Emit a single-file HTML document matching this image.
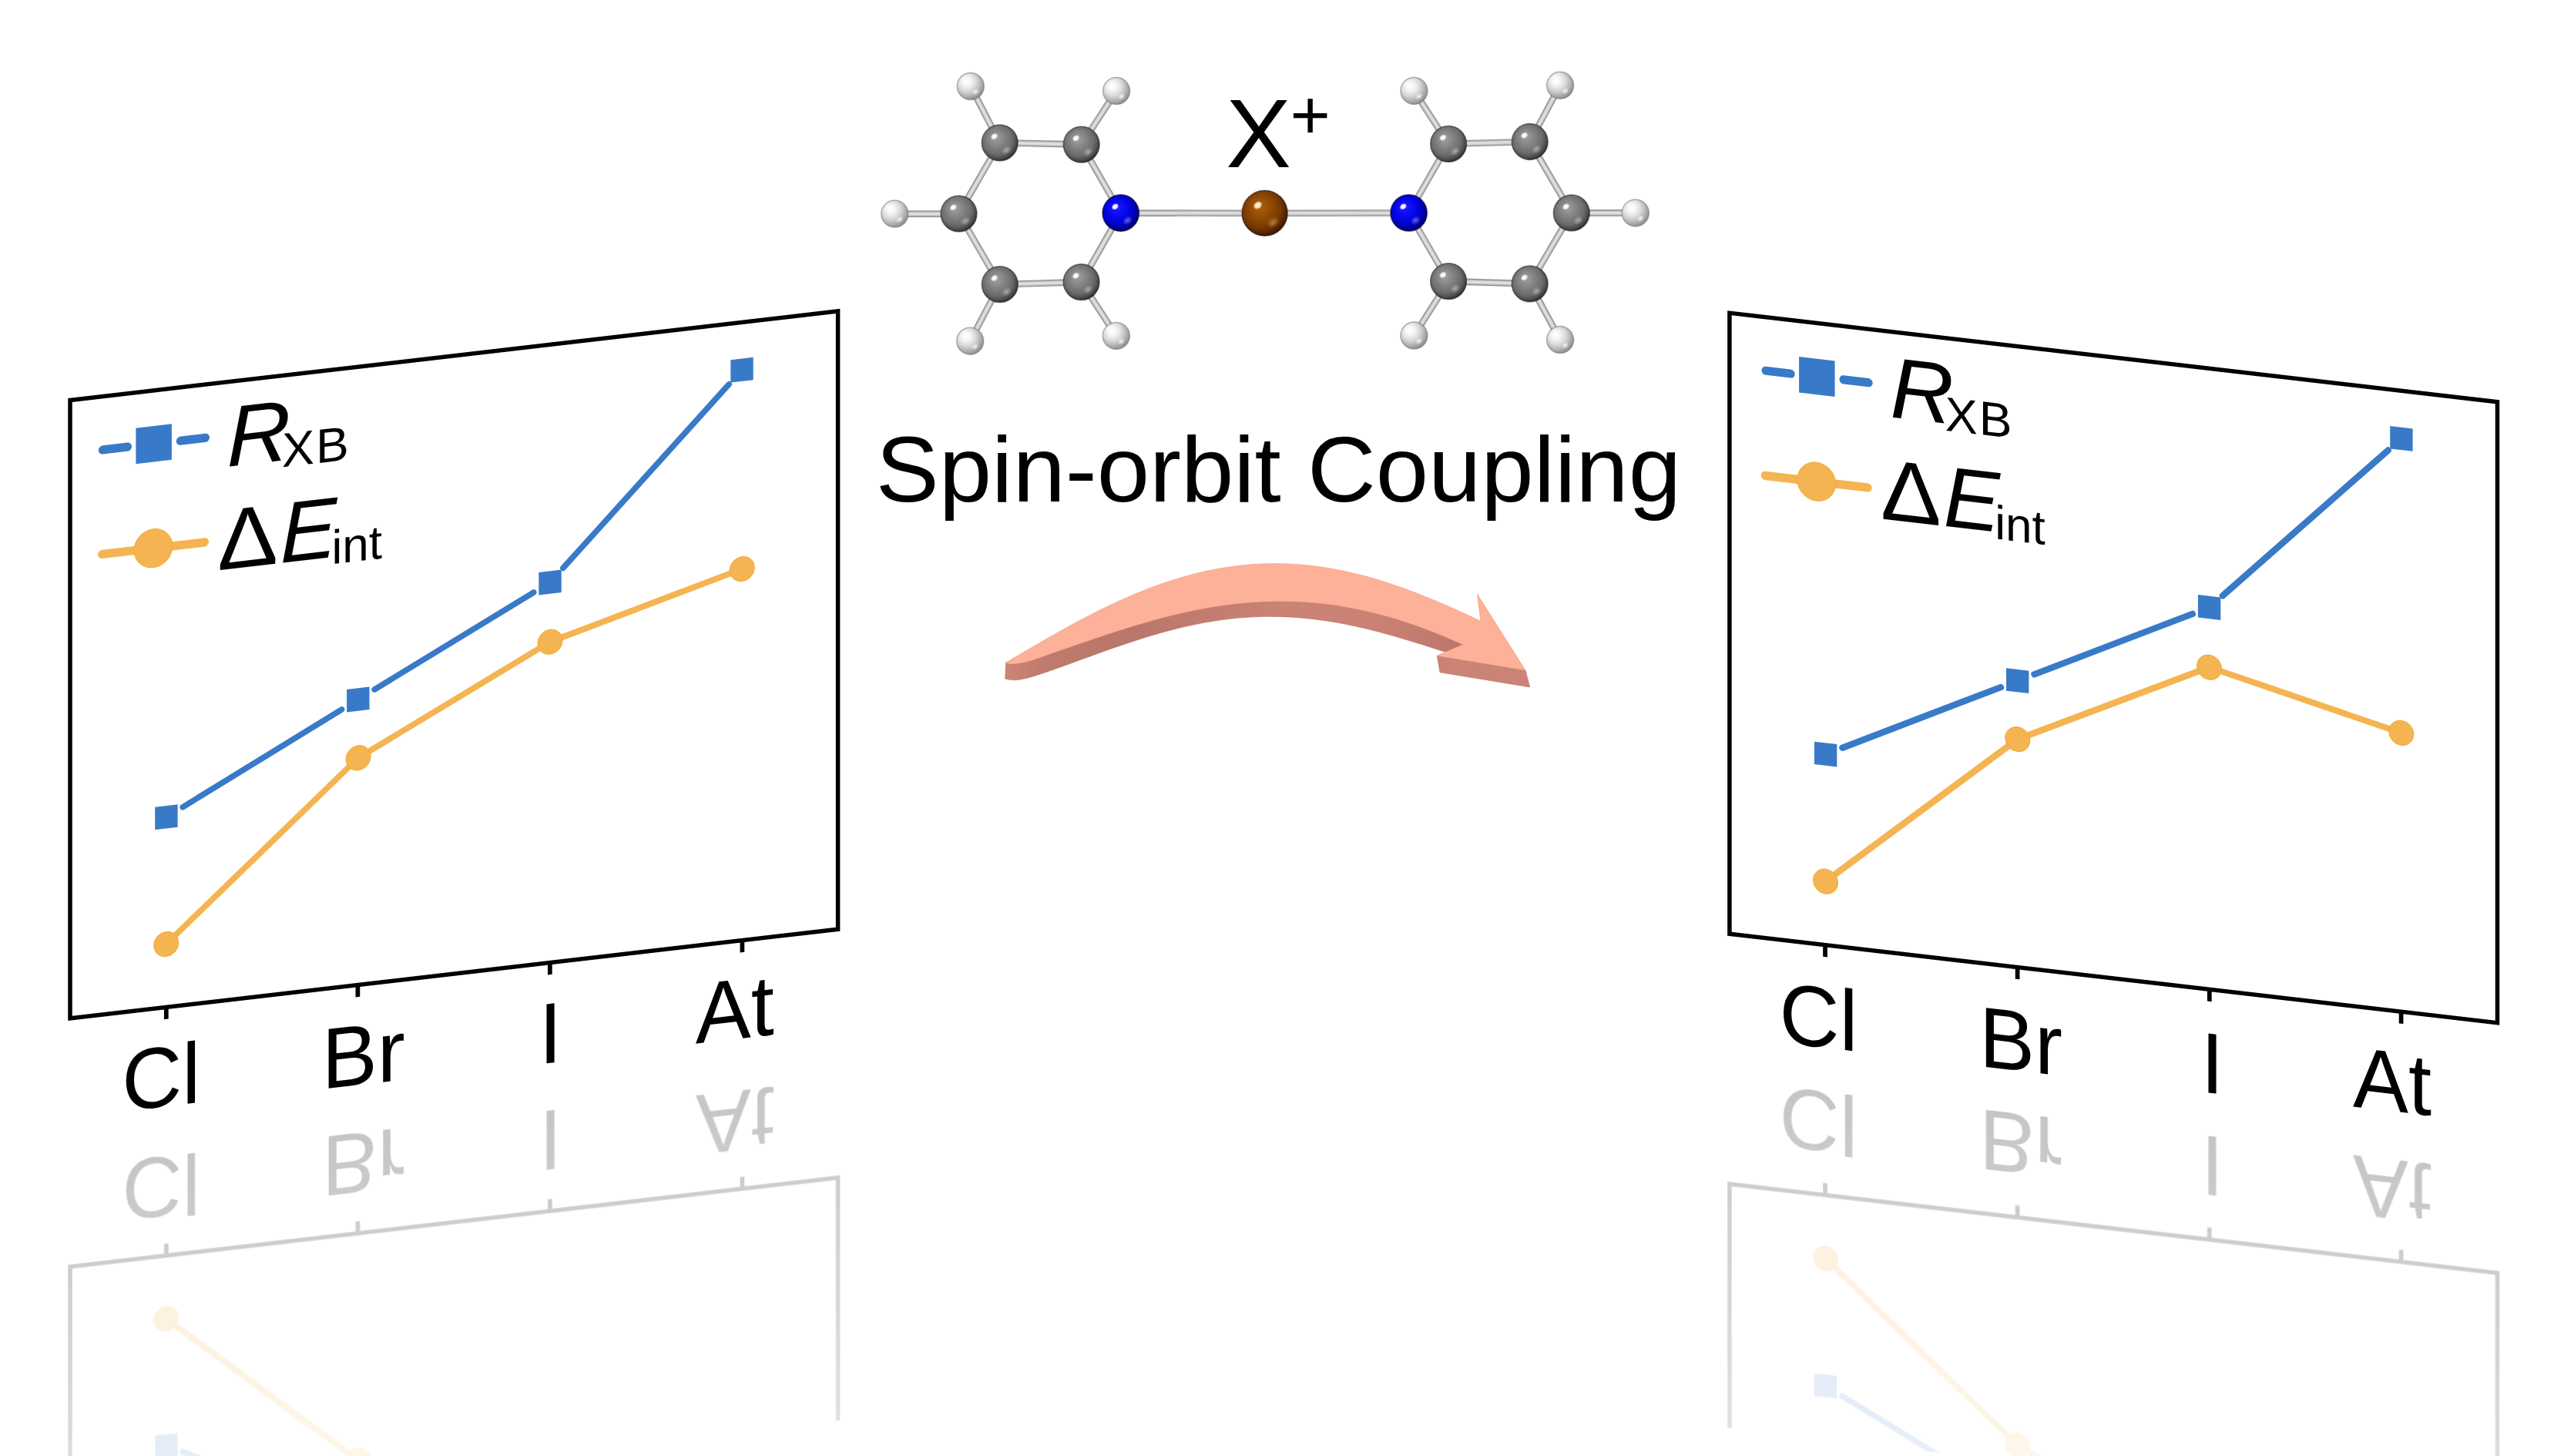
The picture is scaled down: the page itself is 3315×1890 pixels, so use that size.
<!DOCTYPE html>
<html lang="en"><head><meta charset="utf-8"><title>Spin-orbit Coupling</title>
<style>html,body{margin:0;padding:0;background:#fff}body{width:3315px;height:1890px;overflow:hidden}svg{display:block}text{white-space:pre}</style>
</head><body>
<svg width="3315" height="1890" viewBox="0 0 3315 1890">
<defs>
<radialGradient id="gC" cx="0.45" cy="0.43" r="0.6" fx="0.38" fy="0.34"><stop offset="0" stop-color="#a2a2a2"/><stop offset="0.35" stop-color="#868686"/><stop offset="0.7" stop-color="#6b6b6b"/><stop offset="0.87" stop-color="#4c4c4c"/><stop offset="0.95" stop-color="#323232"/><stop offset="1" stop-color="#222222"/></radialGradient>
<radialGradient id="gH" cx="0.4" cy="0.38" r="0.68" fx="0.33" fy="0.3"><stop offset="0" stop-color="#ffffff"/><stop offset="0.25" stop-color="#f4f4f4"/><stop offset="0.5" stop-color="#dadada"/><stop offset="0.72" stop-color="#b6b6b6"/><stop offset="0.9" stop-color="#969696"/><stop offset="1" stop-color="#7c7c7c"/></radialGradient>
<radialGradient id="gN" cx="0.45" cy="0.43" r="0.6" fx="0.38" fy="0.34"><stop offset="0" stop-color="#1c1cff"/><stop offset="0.4" stop-color="#0707f2"/><stop offset="0.72" stop-color="#0000c0"/><stop offset="0.88" stop-color="#000086"/><stop offset="0.96" stop-color="#00005c"/><stop offset="1" stop-color="#000048"/></radialGradient>
<radialGradient id="gBr" cx="0.45" cy="0.43" r="0.6" fx="0.38" fy="0.34"><stop offset="0" stop-color="#b0600c"/><stop offset="0.4" stop-color="#924a04"/><stop offset="0.72" stop-color="#733700"/><stop offset="0.88" stop-color="#4f2400"/><stop offset="0.96" stop-color="#381800"/><stop offset="1" stop-color="#2c1200"/></radialGradient>
<radialGradient id="hC"><stop offset="0" stop-color="#ffffff" stop-opacity="1.0"/><stop offset="0.55" stop-color="#ffffff" stop-opacity="0.9"/><stop offset="1" stop-color="#ffffff" stop-opacity="0"/></radialGradient>
<radialGradient id="hH"><stop offset="0" stop-color="#ffffff" stop-opacity="1.0"/><stop offset="0.55" stop-color="#ffffff" stop-opacity="0.9"/><stop offset="1" stop-color="#ffffff" stop-opacity="0"/></radialGradient>
<radialGradient id="hN"><stop offset="0" stop-color="#ffffff" stop-opacity="1.0"/><stop offset="0.55" stop-color="#ffffff" stop-opacity="0.9"/><stop offset="1" stop-color="#ffffff" stop-opacity="0"/></radialGradient>
<radialGradient id="hBr"><stop offset="0" stop-color="#fff4e0" stop-opacity="1.0"/><stop offset="0.55" stop-color="#fff4e0" stop-opacity="0.9"/><stop offset="1" stop-color="#fff4e0" stop-opacity="0"/></radialGradient>
<radialGradient id="sC"><stop offset="0" stop-color="#c4c4c4" stop-opacity="0.7"/><stop offset="1" stop-color="#c4c4c4" stop-opacity="0"/></radialGradient>
<radialGradient id="sH"><stop offset="0" stop-color="#ffffff" stop-opacity="0.85"/><stop offset="1" stop-color="#ffffff" stop-opacity="0"/></radialGradient>
<radialGradient id="sN"><stop offset="0" stop-color="#7878ff" stop-opacity="0.8"/><stop offset="1" stop-color="#7878ff" stop-opacity="0"/></radialGradient>
<radialGradient id="sBr"><stop offset="0" stop-color="#d8944c" stop-opacity="0.7"/><stop offset="1" stop-color="#d8944c" stop-opacity="0"/></radialGradient>
<linearGradient id="arrSide" gradientUnits="userSpaceOnUse" x1="1304" y1="0" x2="1900" y2="0"><stop offset="0" stop-color="#cc8577"/><stop offset="0.08" stop-color="#c07b6e"/><stop offset="0.28" stop-color="#b9766a"/><stop offset="0.6" stop-color="#cb8375"/><stop offset="0.8" stop-color="#ca8274"/><stop offset="1" stop-color="#bb776b"/></linearGradient>
<linearGradient id="fg0" gradientUnits="userSpaceOnUse" x1="0" y1="963.6" x2="0" y2="1440"><stop offset="0" stop-color="#fff" stop-opacity="0.235"/><stop offset="1" stop-color="#fff" stop-opacity="0.12"/></linearGradient>
<mask id="fade0" maskUnits="userSpaceOnUse" x="-50" y="963.6" width="1100" height="476.4"><rect x="-50" y="963.6" width="1100" height="476.4" fill="url(#fg0)"/></mask>
<linearGradient id="fg1" gradientUnits="userSpaceOnUse" x1="0" y1="968.4" x2="0" y2="1447.8"><stop offset="0" stop-color="#fff" stop-opacity="0.235"/><stop offset="1" stop-color="#fff" stop-opacity="0.12"/></linearGradient>
<mask id="fade1" maskUnits="userSpaceOnUse" x="-50" y="968.4" width="1100" height="479.4"><rect x="-50" y="968.4" width="1100" height="479.4" fill="url(#fg1)"/></mask>
</defs>
<rect width="3315" height="1890" fill="#fff"/>
<g transform="matrix(1 -0.116 0 1 91 519.5)" font-family='"Liberation Sans", sans-serif' fill="#000">
<g mask="url(#fade0)"><g transform="matrix(1 0 0 -1 0 1927.2)">
<rect x="0" y="0" width="996.6" height="802.4" fill="none" stroke="#000" stroke-width="5.5"/>
<line x1="124.8" y1="802.4" x2="124.8" y2="817.9" stroke="#000" stroke-width="5.7"/>
<line x1="373.4" y1="802.4" x2="373.4" y2="817.9" stroke="#000" stroke-width="5.7"/>
<line x1="622.8" y1="802.4" x2="622.8" y2="817.9" stroke="#000" stroke-width="5.7"/>
<line x1="872.4" y1="802.4" x2="872.4" y2="817.9" stroke="#000" stroke-width="5.7"/>
<polyline points="124.7,720.47 374,507.68 623,385.97 872.2,320.18" fill="none" stroke="#f5b452" stroke-width="8.2" stroke-linejoin="round" stroke-linecap="round"/>
<circle cx="124.7" cy="720.47" r="16.1" fill="#f5b452" stroke="#f2a634" stroke-width="0.9"/>
<circle cx="374" cy="507.68" r="16.1" fill="#f5b452" stroke="#f2a634" stroke-width="0.9"/>
<circle cx="623" cy="385.97" r="16.1" fill="#f5b452" stroke="#f2a634" stroke-width="0.9"/>
<circle cx="872.2" cy="320.18" r="16.1" fill="#f5b452" stroke="#f2a634" stroke-width="0.9"/>
<line x1="146.39" y1="545" x2="352.31" y2="442.55" stroke="#397ac8" stroke-width="8" stroke-linecap="round"/>
<line x1="395.32" y1="421.23" x2="601.48" y2="319.4" stroke="#397ac8" stroke-width="8" stroke-linecap="round"/>
<line x1="640.04" y1="291.87" x2="854.96" y2="78.75" stroke="#397ac8" stroke-width="8" stroke-linecap="round"/>
<rect x="110.2" y="540.99" width="29.4" height="29.4" fill="#397ac8"/>
<rect x="359.1" y="417.16" width="29.4" height="29.4" fill="#397ac8"/>
<rect x="608.3" y="294.07" width="29.4" height="29.4" fill="#397ac8"/>
<rect x="857.3" y="47.15" width="29.4" height="29.4" fill="#397ac8"/>
<text transform="translate(67.2 930.8) scale(1 1.035)" font-size="108">Cl</text>
<text transform="translate(326.8 932.2) scale(1 1.035)" font-size="108">Br</text>
<text transform="translate(608.5 932.5) scale(1 1.035)" font-size="108">I</text>
<text transform="translate(811.8 929.3) scale(1 1.035)" font-size="108">At</text>
</g></g>
<g>
<rect x="0" y="0" width="996.6" height="802.4" fill="none" stroke="#000" stroke-width="5.5"/>
<line x1="124.8" y1="802.4" x2="124.8" y2="817.9" stroke="#000" stroke-width="5.7"/>
<line x1="373.4" y1="802.4" x2="373.4" y2="817.9" stroke="#000" stroke-width="5.7"/>
<line x1="622.8" y1="802.4" x2="622.8" y2="817.9" stroke="#000" stroke-width="5.7"/>
<line x1="872.4" y1="802.4" x2="872.4" y2="817.9" stroke="#000" stroke-width="5.7"/>
<polyline points="124.7,720.47 374,507.68 623,385.97 872.2,320.18" fill="none" stroke="#f5b452" stroke-width="8.2" stroke-linejoin="round" stroke-linecap="round"/>
<circle cx="124.7" cy="720.47" r="16.1" fill="#f5b452" stroke="#f2a634" stroke-width="0.9"/>
<circle cx="374" cy="507.68" r="16.1" fill="#f5b452" stroke="#f2a634" stroke-width="0.9"/>
<circle cx="623" cy="385.97" r="16.1" fill="#f5b452" stroke="#f2a634" stroke-width="0.9"/>
<circle cx="872.2" cy="320.18" r="16.1" fill="#f5b452" stroke="#f2a634" stroke-width="0.9"/>
<line x1="146.39" y1="545" x2="352.31" y2="442.55" stroke="#397ac8" stroke-width="8" stroke-linecap="round"/>
<line x1="395.32" y1="421.23" x2="601.48" y2="319.4" stroke="#397ac8" stroke-width="8" stroke-linecap="round"/>
<line x1="640.04" y1="291.87" x2="854.96" y2="78.75" stroke="#397ac8" stroke-width="8" stroke-linecap="round"/>
<rect x="110.2" y="540.99" width="29.4" height="29.4" fill="#397ac8"/>
<rect x="359.1" y="417.16" width="29.4" height="29.4" fill="#397ac8"/>
<rect x="608.3" y="294.07" width="29.4" height="29.4" fill="#397ac8"/>
<rect x="857.3" y="47.15" width="29.4" height="29.4" fill="#397ac8"/>
<line x1="42.4" y1="69.3" x2="74.4" y2="69.3" stroke="#397ac8" stroke-width="11.2" stroke-linecap="round"/>
<line x1="143.3" y1="69.3" x2="175.4" y2="69.3" stroke="#397ac8" stroke-width="11.2" stroke-linecap="round"/>
<rect x="85.35" y="46.05" width="46.5" height="46.5" fill="#397ac8"/>
<line x1="41.65" y1="204.7" x2="174.35" y2="204.7" stroke="#f5b452" stroke-width="11.3" stroke-linecap="round"/>
<circle cx="108" cy="204.7" r="25" fill="#f5b452" stroke="#f2a634" stroke-width="0.9"/>
<text transform="translate(0 110) scale(1 1.035)" font-size="108"><tspan x="203.5" y="0" font-style="italic" textLength="82.68" lengthAdjust="spacingAndGlyphs">R</tspan><tspan x="275" y="8.7" font-size="60.5" textLength="41.97" lengthAdjust="spacingAndGlyphs">X</tspan><tspan x="319" y="8.7" font-size="60.5" textLength="42.78" lengthAdjust="spacingAndGlyphs">B</tspan></text>
<text transform="translate(0 243.2) scale(1 1.035)" font-size="108"><tspan x="191.3" y="0" textLength="78.63" lengthAdjust="spacingAndGlyphs">Δ</tspan><tspan x="272.7" y="0" font-style="italic" textLength="73.49" lengthAdjust="spacingAndGlyphs">E</tspan><tspan x="339.5" y="8.7" font-size="59.9" textLength="65.48" lengthAdjust="spacingAndGlyphs">int</tspan></text>
<text transform="translate(67.2 930.8) scale(1 1.035)" font-size="108">Cl</text>
<text transform="translate(326.8 932.2) scale(1 1.035)" font-size="108">Br</text>
<text transform="translate(608.5 932.5) scale(1 1.035)" font-size="108">I</text>
<text transform="translate(811.8 929.3) scale(1 1.035)" font-size="108">At</text>
</g>
</g>
<g transform="matrix(1 0.1159 0 1 2244.9 406.2)" font-family='"Liberation Sans", sans-serif' fill="#000">
<g mask="url(#fade1)"><g transform="matrix(1 0 0 -1 0 1936.8)">
<rect x="0" y="0" width="996.6" height="806" fill="none" stroke="#000" stroke-width="5.5"/>
<line x1="124.1" y1="806" x2="124.1" y2="821.5" stroke="#000" stroke-width="5.7"/>
<line x1="373.7" y1="806" x2="373.7" y2="821.5" stroke="#000" stroke-width="5.7"/>
<line x1="622.9" y1="806" x2="622.9" y2="821.5" stroke="#000" stroke-width="5.7"/>
<line x1="871.7" y1="806" x2="871.7" y2="821.5" stroke="#000" stroke-width="5.7"/>
<polyline points="124.6,723.56 373.8,510.08 622.6,387.84 871.9,444.15" fill="none" stroke="#f5b452" stroke-width="8.2" stroke-linejoin="round" stroke-linecap="round"/>
<circle cx="124.6" cy="723.56" r="16.1" fill="#f5b452" stroke="#f2a634" stroke-width="0.9"/>
<circle cx="373.8" cy="510.08" r="16.1" fill="#f5b452" stroke="#f2a634" stroke-width="0.9"/>
<circle cx="622.6" cy="387.84" r="16.1" fill="#f5b452" stroke="#f2a634" stroke-width="0.9"/>
<circle cx="871.9" cy="444.15" r="16.1" fill="#f5b452" stroke="#f2a634" stroke-width="0.9"/>
<line x1="146.18" y1="547.73" x2="352.32" y2="444.89" stroke="#397ac8" stroke-width="8" stroke-linecap="round"/>
<line x1="395.28" y1="423.47" x2="601.22" y2="320.83" stroke="#397ac8" stroke-width="8" stroke-linecap="round"/>
<line x1="639.72" y1="293.2" x2="854.98" y2="79.06" stroke="#397ac8" stroke-width="8" stroke-linecap="round"/>
<rect x="110" y="543.75" width="29.4" height="29.4" fill="#397ac8"/>
<rect x="359.1" y="419.48" width="29.4" height="29.4" fill="#397ac8"/>
<rect x="608" y="295.43" width="29.4" height="29.4" fill="#397ac8"/>
<rect x="857.3" y="47.44" width="29.4" height="29.4" fill="#397ac8"/>
<text transform="translate(64.6 939.4) scale(1 1.035)" font-size="108">Cl</text>
<text transform="translate(324 940.3) scale(1 1.035)" font-size="108">Br</text>
<text transform="translate(611.5 940.1) scale(1 1.035)" font-size="108">I</text>
<text transform="translate(809 936.5) scale(1 1.035)" font-size="108">At</text>
</g></g>
<g>
<rect x="0" y="0" width="996.6" height="806" fill="none" stroke="#000" stroke-width="5.5"/>
<line x1="124.1" y1="806" x2="124.1" y2="821.5" stroke="#000" stroke-width="5.7"/>
<line x1="373.7" y1="806" x2="373.7" y2="821.5" stroke="#000" stroke-width="5.7"/>
<line x1="622.9" y1="806" x2="622.9" y2="821.5" stroke="#000" stroke-width="5.7"/>
<line x1="871.7" y1="806" x2="871.7" y2="821.5" stroke="#000" stroke-width="5.7"/>
<polyline points="124.6,723.56 373.8,510.08 622.6,387.84 871.9,444.15" fill="none" stroke="#f5b452" stroke-width="8.2" stroke-linejoin="round" stroke-linecap="round"/>
<circle cx="124.6" cy="723.56" r="16.1" fill="#f5b452" stroke="#f2a634" stroke-width="0.9"/>
<circle cx="373.8" cy="510.08" r="16.1" fill="#f5b452" stroke="#f2a634" stroke-width="0.9"/>
<circle cx="622.6" cy="387.84" r="16.1" fill="#f5b452" stroke="#f2a634" stroke-width="0.9"/>
<circle cx="871.9" cy="444.15" r="16.1" fill="#f5b452" stroke="#f2a634" stroke-width="0.9"/>
<line x1="146.18" y1="547.73" x2="352.32" y2="444.89" stroke="#397ac8" stroke-width="8" stroke-linecap="round"/>
<line x1="395.28" y1="423.47" x2="601.22" y2="320.83" stroke="#397ac8" stroke-width="8" stroke-linecap="round"/>
<line x1="639.72" y1="293.2" x2="854.98" y2="79.06" stroke="#397ac8" stroke-width="8" stroke-linecap="round"/>
<rect x="110" y="543.75" width="29.4" height="29.4" fill="#397ac8"/>
<rect x="359.1" y="419.48" width="29.4" height="29.4" fill="#397ac8"/>
<rect x="608" y="295.43" width="29.4" height="29.4" fill="#397ac8"/>
<rect x="857.3" y="47.44" width="29.4" height="29.4" fill="#397ac8"/>
<line x1="47.2" y1="69.6" x2="79.2" y2="69.6" stroke="#397ac8" stroke-width="11.2" stroke-linecap="round"/>
<line x1="148.1" y1="69.6" x2="180.2" y2="69.6" stroke="#397ac8" stroke-width="11.2" stroke-linecap="round"/>
<rect x="90.15" y="46.35" width="46.5" height="46.5" fill="#397ac8"/>
<line x1="46.45" y1="205.9" x2="179.15" y2="205.9" stroke="#f5b452" stroke-width="11.3" stroke-linecap="round"/>
<circle cx="112.8" cy="205.9" r="25" fill="#f5b452" stroke="#f2a634" stroke-width="0.9"/>
<text transform="translate(0 111) scale(1 1.035)" font-size="108"><tspan x="208.3" y="0" font-style="italic" textLength="82.68" lengthAdjust="spacingAndGlyphs">R</tspan><tspan x="279.8" y="8.7" font-size="60.5" textLength="41.97" lengthAdjust="spacingAndGlyphs">X</tspan><tspan x="323.8" y="8.7" font-size="60.5" textLength="42.78" lengthAdjust="spacingAndGlyphs">B</tspan></text>
<text transform="translate(0 244.2) scale(1 1.035)" font-size="108"><tspan x="196.1" y="0" textLength="78.63" lengthAdjust="spacingAndGlyphs">Δ</tspan><tspan x="277.5" y="0" font-style="italic" textLength="73.49" lengthAdjust="spacingAndGlyphs">E</tspan><tspan x="344.3" y="8.7" font-size="59.9" textLength="65.48" lengthAdjust="spacingAndGlyphs">int</tspan></text>
<text transform="translate(64.6 939.4) scale(1 1.035)" font-size="108">Cl</text>
<text transform="translate(324 940.3) scale(1 1.035)" font-size="108">Br</text>
<text transform="translate(611.5 940.1) scale(1 1.035)" font-size="108">I</text>
<text transform="translate(809 936.5) scale(1 1.035)" font-size="108">At</text>
</g>
</g>
<g>
<path d="M1297.7 185.3L1403.7 187.6 M1297.7 185.3L1244.5 277.4 M1244.5 277.4L1297.8 369.2 M1297.8 369.2L1403.6 366.1 M1403.6 366.1L1454.7 276.5 M1403.7 187.6L1454.7 276.5 M1297.7 185.3L1259.8 112 M1403.7 187.6L1449.1 118.1 M1244.5 277.4L1161.3 277.6 M1297.8 369.2L1259.2 442.7 M1403.6 366.1L1448.8 435.9 M1454.7 276.5L1641.6 276.7 M1985.7 184L1880.1 186.8 M1985.7 184L2039.8 276.4 M2039.8 276.4L1985.7 368.4 M1985.7 368.4L1880.1 365.1 M1880.1 365.1L1828.6 276.4 M1880.1 186.8L1828.6 276.4 M1985.7 184L2025.1 110.8 M1880.1 186.8L1835.4 117.9 M2039.8 276.4L2122.8 276.4 M1985.7 368.4L2025.1 441.1 M1880.1 365.1L1835.4 435.5 M1828.6 276.4L1641.6 276.7" stroke="#8e8e8e" stroke-width="8.6" fill="none"/>
<path d="M1297.7 185.3L1403.7 187.6 M1297.7 185.3L1244.5 277.4 M1244.5 277.4L1297.8 369.2 M1297.8 369.2L1403.6 366.1 M1403.6 366.1L1454.7 276.5 M1403.7 187.6L1454.7 276.5 M1297.7 185.3L1259.8 112 M1403.7 187.6L1449.1 118.1 M1244.5 277.4L1161.3 277.6 M1297.8 369.2L1259.2 442.7 M1403.6 366.1L1448.8 435.9 M1454.7 276.5L1641.6 276.7 M1985.7 184L1880.1 186.8 M1985.7 184L2039.8 276.4 M2039.8 276.4L1985.7 368.4 M1985.7 368.4L1880.1 365.1 M1880.1 365.1L1828.6 276.4 M1880.1 186.8L1828.6 276.4 M1985.7 184L2025.1 110.8 M1880.1 186.8L1835.4 117.9 M2039.8 276.4L2122.8 276.4 M1985.7 368.4L2025.1 441.1 M1880.1 365.1L1835.4 435.5 M1828.6 276.4L1641.6 276.7" stroke="#b9b9b9" stroke-width="6.4" fill="none"/>
<path d="M1297.7 185.3L1403.7 187.6 M1297.7 185.3L1244.5 277.4 M1244.5 277.4L1297.8 369.2 M1297.8 369.2L1403.6 366.1 M1403.6 366.1L1454.7 276.5 M1403.7 187.6L1454.7 276.5 M1297.7 185.3L1259.8 112 M1403.7 187.6L1449.1 118.1 M1244.5 277.4L1161.3 277.6 M1297.8 369.2L1259.2 442.7 M1403.6 366.1L1448.8 435.9 M1454.7 276.5L1641.6 276.7 M1985.7 184L1880.1 186.8 M1985.7 184L2039.8 276.4 M2039.8 276.4L1985.7 368.4 M1985.7 368.4L1880.1 365.1 M1880.1 365.1L1828.6 276.4 M1880.1 186.8L1828.6 276.4 M1985.7 184L2025.1 110.8 M1880.1 186.8L1835.4 117.9 M2039.8 276.4L2122.8 276.4 M1985.7 368.4L2025.1 441.1 M1880.1 365.1L1835.4 435.5 M1828.6 276.4L1641.6 276.7" stroke="#d6d6d6" stroke-width="3.6" fill="none"/>
<path d="M1297.7 185.3L1403.7 187.6 M1297.7 185.3L1244.5 277.4 M1244.5 277.4L1297.8 369.2 M1297.8 369.2L1403.6 366.1 M1403.6 366.1L1454.7 276.5 M1403.7 187.6L1454.7 276.5 M1297.7 185.3L1259.8 112 M1403.7 187.6L1449.1 118.1 M1244.5 277.4L1161.3 277.6 M1297.8 369.2L1259.2 442.7 M1403.6 366.1L1448.8 435.9 M1454.7 276.5L1641.6 276.7 M1985.7 184L1880.1 186.8 M1985.7 184L2039.8 276.4 M2039.8 276.4L1985.7 368.4 M1985.7 368.4L1880.1 365.1 M1880.1 365.1L1828.6 276.4 M1880.1 186.8L1828.6 276.4 M1985.7 184L2025.1 110.8 M1880.1 186.8L1835.4 117.9 M2039.8 276.4L2122.8 276.4 M1985.7 368.4L2025.1 441.1 M1880.1 365.1L1835.4 435.5 M1828.6 276.4L1641.6 276.7" stroke="#e2e2e2" stroke-width="1.6" fill="none"/>
<circle cx="1259.8" cy="112" r="17.5" fill="url(#gH)" stroke="#6e6e6e" stroke-opacity="0.5" stroke-width="1.5"/>
<ellipse cx="1266.32" cy="119.24" rx="5.43" ry="3.98" fill="url(#sH)" transform="rotate(-35 1266.32 119.24)"/>
<ellipse cx="1254.37" cy="105.85" rx="3.98" ry="3.08" fill="url(#hH)" transform="rotate(-35 1254.37 105.85)"/>
<circle cx="1449.1" cy="118.1" r="17.5" fill="url(#gH)" stroke="#6e6e6e" stroke-opacity="0.5" stroke-width="1.5"/>
<ellipse cx="1455.62" cy="125.34" rx="5.43" ry="3.98" fill="url(#sH)" transform="rotate(-35 1455.62 125.34)"/>
<ellipse cx="1443.67" cy="111.95" rx="3.98" ry="3.08" fill="url(#hH)" transform="rotate(-35 1443.67 111.95)"/>
<circle cx="1161.3" cy="277.6" r="17.5" fill="url(#gH)" stroke="#6e6e6e" stroke-opacity="0.5" stroke-width="1.5"/>
<ellipse cx="1167.82" cy="284.84" rx="5.43" ry="3.98" fill="url(#sH)" transform="rotate(-35 1167.82 284.84)"/>
<ellipse cx="1155.87" cy="271.45" rx="3.98" ry="3.08" fill="url(#hH)" transform="rotate(-35 1155.87 271.45)"/>
<circle cx="1259.2" cy="442.7" r="17.5" fill="url(#gH)" stroke="#6e6e6e" stroke-opacity="0.5" stroke-width="1.5"/>
<ellipse cx="1265.72" cy="449.94" rx="5.43" ry="3.98" fill="url(#sH)" transform="rotate(-35 1265.72 449.94)"/>
<ellipse cx="1253.77" cy="436.55" rx="3.98" ry="3.08" fill="url(#hH)" transform="rotate(-35 1253.77 436.55)"/>
<circle cx="1448.8" cy="435.9" r="17.5" fill="url(#gH)" stroke="#6e6e6e" stroke-opacity="0.5" stroke-width="1.5"/>
<ellipse cx="1455.32" cy="443.14" rx="5.43" ry="3.98" fill="url(#sH)" transform="rotate(-35 1455.32 443.14)"/>
<ellipse cx="1443.37" cy="429.75" rx="3.98" ry="3.08" fill="url(#hH)" transform="rotate(-35 1443.37 429.75)"/>
<circle cx="1297.7" cy="185.3" r="23.4" fill="url(#gC)" stroke="#1c1c1c" stroke-opacity="0.55" stroke-width="1.5"/>
<ellipse cx="1306.34" cy="194.9" rx="7.2" ry="5.28" fill="url(#sC)" transform="rotate(-35 1306.34 194.9)"/>
<ellipse cx="1290.5" cy="177.14" rx="5.28" ry="4.08" fill="url(#hC)" transform="rotate(-35 1290.5 177.14)"/>
<circle cx="1403.7" cy="187.6" r="23.4" fill="url(#gC)" stroke="#1c1c1c" stroke-opacity="0.55" stroke-width="1.5"/>
<ellipse cx="1412.34" cy="197.2" rx="7.2" ry="5.28" fill="url(#sC)" transform="rotate(-35 1412.34 197.2)"/>
<ellipse cx="1396.5" cy="179.44" rx="5.28" ry="4.08" fill="url(#hC)" transform="rotate(-35 1396.5 179.44)"/>
<circle cx="1244.5" cy="277.4" r="23.4" fill="url(#gC)" stroke="#1c1c1c" stroke-opacity="0.55" stroke-width="1.5"/>
<ellipse cx="1253.14" cy="287" rx="7.2" ry="5.28" fill="url(#sC)" transform="rotate(-35 1253.14 287)"/>
<ellipse cx="1237.3" cy="269.24" rx="5.28" ry="4.08" fill="url(#hC)" transform="rotate(-35 1237.3 269.24)"/>
<circle cx="1297.8" cy="369.2" r="23.4" fill="url(#gC)" stroke="#1c1c1c" stroke-opacity="0.55" stroke-width="1.5"/>
<ellipse cx="1306.44" cy="378.8" rx="7.2" ry="5.28" fill="url(#sC)" transform="rotate(-35 1306.44 378.8)"/>
<ellipse cx="1290.6" cy="361.04" rx="5.28" ry="4.08" fill="url(#hC)" transform="rotate(-35 1290.6 361.04)"/>
<circle cx="1403.6" cy="366.1" r="23.4" fill="url(#gC)" stroke="#1c1c1c" stroke-opacity="0.55" stroke-width="1.5"/>
<ellipse cx="1412.24" cy="375.7" rx="7.2" ry="5.28" fill="url(#sC)" transform="rotate(-35 1412.24 375.7)"/>
<ellipse cx="1396.4" cy="357.94" rx="5.28" ry="4.08" fill="url(#hC)" transform="rotate(-35 1396.4 357.94)"/>
<circle cx="1454.7" cy="276.5" r="23.7" fill="url(#gN)" stroke="#00003a" stroke-opacity="0.6" stroke-width="1.5"/>
<ellipse cx="1463.45" cy="286.22" rx="7.29" ry="5.35" fill="url(#sN)" transform="rotate(-35 1463.45 286.22)"/>
<ellipse cx="1447.41" cy="268.24" rx="5.35" ry="4.13" fill="url(#hN)" transform="rotate(-35 1447.41 268.24)"/>
<circle cx="2025.1" cy="110.8" r="17.5" fill="url(#gH)" stroke="#6e6e6e" stroke-opacity="0.5" stroke-width="1.5"/>
<ellipse cx="2031.62" cy="118.04" rx="5.43" ry="3.98" fill="url(#sH)" transform="rotate(-35 2031.62 118.04)"/>
<ellipse cx="2019.67" cy="104.65" rx="3.98" ry="3.08" fill="url(#hH)" transform="rotate(-35 2019.67 104.65)"/>
<circle cx="1835.4" cy="117.9" r="17.5" fill="url(#gH)" stroke="#6e6e6e" stroke-opacity="0.5" stroke-width="1.5"/>
<ellipse cx="1841.92" cy="125.14" rx="5.43" ry="3.98" fill="url(#sH)" transform="rotate(-35 1841.92 125.14)"/>
<ellipse cx="1829.97" cy="111.75" rx="3.98" ry="3.08" fill="url(#hH)" transform="rotate(-35 1829.97 111.75)"/>
<circle cx="2122.8" cy="276.4" r="17.5" fill="url(#gH)" stroke="#6e6e6e" stroke-opacity="0.5" stroke-width="1.5"/>
<ellipse cx="2129.32" cy="283.64" rx="5.43" ry="3.98" fill="url(#sH)" transform="rotate(-35 2129.32 283.64)"/>
<ellipse cx="2117.37" cy="270.25" rx="3.98" ry="3.08" fill="url(#hH)" transform="rotate(-35 2117.37 270.25)"/>
<circle cx="2025.1" cy="441.1" r="17.5" fill="url(#gH)" stroke="#6e6e6e" stroke-opacity="0.5" stroke-width="1.5"/>
<ellipse cx="2031.62" cy="448.34" rx="5.43" ry="3.98" fill="url(#sH)" transform="rotate(-35 2031.62 448.34)"/>
<ellipse cx="2019.67" cy="434.95" rx="3.98" ry="3.08" fill="url(#hH)" transform="rotate(-35 2019.67 434.95)"/>
<circle cx="1835.4" cy="435.5" r="17.5" fill="url(#gH)" stroke="#6e6e6e" stroke-opacity="0.5" stroke-width="1.5"/>
<ellipse cx="1841.92" cy="442.74" rx="5.43" ry="3.98" fill="url(#sH)" transform="rotate(-35 1841.92 442.74)"/>
<ellipse cx="1829.97" cy="429.35" rx="3.98" ry="3.08" fill="url(#hH)" transform="rotate(-35 1829.97 429.35)"/>
<circle cx="1985.7" cy="184" r="23.4" fill="url(#gC)" stroke="#1c1c1c" stroke-opacity="0.55" stroke-width="1.5"/>
<ellipse cx="1994.34" cy="193.6" rx="7.2" ry="5.28" fill="url(#sC)" transform="rotate(-35 1994.34 193.6)"/>
<ellipse cx="1978.5" cy="175.84" rx="5.28" ry="4.08" fill="url(#hC)" transform="rotate(-35 1978.5 175.84)"/>
<circle cx="1880.1" cy="186.8" r="23.4" fill="url(#gC)" stroke="#1c1c1c" stroke-opacity="0.55" stroke-width="1.5"/>
<ellipse cx="1888.74" cy="196.4" rx="7.2" ry="5.28" fill="url(#sC)" transform="rotate(-35 1888.74 196.4)"/>
<ellipse cx="1872.9" cy="178.64" rx="5.28" ry="4.08" fill="url(#hC)" transform="rotate(-35 1872.9 178.64)"/>
<circle cx="2039.8" cy="276.4" r="23.4" fill="url(#gC)" stroke="#1c1c1c" stroke-opacity="0.55" stroke-width="1.5"/>
<ellipse cx="2048.44" cy="286" rx="7.2" ry="5.28" fill="url(#sC)" transform="rotate(-35 2048.44 286)"/>
<ellipse cx="2032.6" cy="268.24" rx="5.28" ry="4.08" fill="url(#hC)" transform="rotate(-35 2032.6 268.24)"/>
<circle cx="1985.7" cy="368.4" r="23.4" fill="url(#gC)" stroke="#1c1c1c" stroke-opacity="0.55" stroke-width="1.5"/>
<ellipse cx="1994.34" cy="378" rx="7.2" ry="5.28" fill="url(#sC)" transform="rotate(-35 1994.34 378)"/>
<ellipse cx="1978.5" cy="360.24" rx="5.28" ry="4.08" fill="url(#hC)" transform="rotate(-35 1978.5 360.24)"/>
<circle cx="1880.1" cy="365.1" r="23.4" fill="url(#gC)" stroke="#1c1c1c" stroke-opacity="0.55" stroke-width="1.5"/>
<ellipse cx="1888.74" cy="374.7" rx="7.2" ry="5.28" fill="url(#sC)" transform="rotate(-35 1888.74 374.7)"/>
<ellipse cx="1872.9" cy="356.94" rx="5.28" ry="4.08" fill="url(#hC)" transform="rotate(-35 1872.9 356.94)"/>
<circle cx="1828.6" cy="276.4" r="23.7" fill="url(#gN)" stroke="#00003a" stroke-opacity="0.6" stroke-width="1.5"/>
<ellipse cx="1837.35" cy="286.12" rx="7.29" ry="5.35" fill="url(#sN)" transform="rotate(-35 1837.35 286.12)"/>
<ellipse cx="1821.31" cy="268.14" rx="5.35" ry="4.13" fill="url(#hN)" transform="rotate(-35 1821.31 268.14)"/>
<circle cx="1641.6" cy="276.7" r="29.5" fill="url(#gBr)" stroke="#241000" stroke-opacity="0.6" stroke-width="1.5"/>
<ellipse cx="1652.44" cy="288.74" rx="9.03" ry="6.62" fill="url(#sBr)" transform="rotate(-35 1652.44 288.74)"/>
<ellipse cx="1632.57" cy="266.47" rx="6.62" ry="5.12" fill="url(#hBr)" transform="rotate(-35 1632.57 266.47)"/>
</g>
<g font-family='"Liberation Sans", sans-serif' fill="#000">
<text x="1591.3" y="217.3" font-size="126.8">X<tspan x="1674.6" y="180.3" font-size="89.5">+</tspan></text>
<text x="1136.8" y="650.6" font-size="121" textLength="1045.2" lengthAdjust="spacingAndGlyphs">Spin-orbit Coupling</text>
</g>
<path d="M1305.8 860.06L1304.7 880.9C1305.75 881.13 1308.62 882.02 1311 882.3 C1313.38 882.58 1315 883.03 1319 882.6 C1323 882.17 1328.45 881.42 1335 879.7 C1341.55 877.98 1350.82 874.78 1358.3 872.27 C1365.78 869.77 1372.69 867.24 1379.89 864.66 C1387.09 862.09 1394.29 859.45 1401.48 856.83 C1408.68 854.22 1415.88 851.57 1423.08 848.98 C1430.27 846.39 1437.47 843.79 1444.67 841.28 C1451.86 838.77 1459.06 836.29 1466.26 833.9 C1473.46 831.52 1480.65 829.2 1487.85 826.99 C1495.05 824.79 1502.24 822.66 1509.44 820.68 C1516.64 818.69 1523.84 816.8 1531.03 815.07 C1538.23 813.33 1545.43 811.72 1552.62 810.26 C1559.82 808.8 1567.02 807.49 1574.22 806.33 C1581.41 805.18 1588.61 804.18 1595.81 803.35 C1603.01 802.52 1610.2 801.84 1617.4 801.35 C1624.6 800.85 1631.79 800.52 1638.99 800.35 C1646.19 800.19 1653.39 800.21 1660.58 800.38 C1667.78 800.56 1674.98 800.91 1682.17 801.42 C1689.37 801.94 1696.57 802.62 1703.77 803.45 C1710.96 804.29 1718.16 805.29 1725.36 806.43 C1732.56 807.57 1739.75 808.87 1746.95 810.29 C1754.15 811.71 1761.34 813.28 1768.54 814.96 C1775.74 816.63 1782.94 818.45 1790.13 820.34 C1797.33 822.24 1804.53 824.26 1811.72 826.34 C1818.92 828.42 1826.12 830.6 1833.32 832.81 C1840.51 835.02 1847.71 837.32 1854.91 839.62 C1862.11 841.91 1872.9 845.43 1876.5 846.6L1899.2 836.85C1895.59 835.27 1884.78 830.39 1877.56 827.35 C1870.35 824.31 1863.14 821.39 1855.93 818.61 C1848.72 815.83 1841.5 813.18 1834.29 810.68 C1827.08 808.19 1819.87 805.83 1812.66 803.62 C1805.44 801.41 1798.23 799.35 1791.02 797.45 C1783.81 795.55 1776.6 793.8 1769.38 792.21 C1762.17 790.62 1754.96 789.19 1747.75 787.92 C1740.54 786.65 1733.32 785.54 1726.11 784.59 C1718.9 783.64 1711.69 782.85 1704.48 782.22 C1697.26 781.6 1690.05 781.13 1682.84 780.83 C1675.63 780.52 1668.42 780.38 1661.2 780.38 C1653.99 780.39 1646.78 780.56 1639.57 780.88 C1632.36 781.2 1625.14 781.67 1617.93 782.29 C1610.72 782.9 1603.51 783.67 1596.3 784.58 C1589.08 785.48 1581.87 786.53 1574.66 787.7 C1567.45 788.88 1560.24 790.19 1553.02 791.62 C1545.81 793.04 1538.6 794.6 1531.39 796.26 C1524.18 797.92 1516.96 799.71 1509.75 801.58 C1502.54 803.45 1495.33 805.43 1488.12 807.49 C1480.9 809.54 1473.69 811.7 1466.48 813.91 C1459.27 816.12 1452.06 818.42 1444.84 820.76 C1437.63 823.1 1430.42 825.51 1423.21 827.94 C1416 830.37 1408.78 832.86 1401.57 835.35 C1394.36 837.83 1387.15 840.36 1379.94 842.87 C1372.72 845.37 1365.82 847.81 1358.3 850.38 C1350.78 852.95 1341.32 856.48 1334.8 858.3 C1328.28 860.12 1323.25 860.77 1319.2 861.3 C1315.15 861.83 1312.73 861.77 1310.5 861.5 C1308.27 861.23 1306.58 860 1305.8 859.7Z" fill="url(#arrSide)" stroke="#b87267" stroke-width="0.7" stroke-linejoin="round"/>
<path d="M1865.2 851.1L1979.9 869.9L1985.7 891.9L1869 872.7Z" fill="#cb8375" stroke="#bd776b" stroke-width="0.7" stroke-linejoin="round"/>
<path d="M1305.8 860.06C1309.47 857.9 1320.47 851.38 1327.8 847.08 C1335.14 842.77 1342.47 838.46 1349.81 834.23 C1357.14 830 1364.48 825.79 1371.81 821.67 C1379.15 817.56 1386.48 813.49 1393.81 809.54 C1401.15 805.59 1408.48 801.71 1415.82 797.96 C1423.15 794.21 1430.49 790.56 1437.82 787.05 C1445.16 783.54 1452.49 780.14 1459.83 776.9 C1467.16 773.66 1474.49 770.55 1481.83 767.61 C1489.16 764.67 1496.5 761.88 1503.83 759.26 C1511.17 756.65 1518.5 754.19 1525.84 751.93 C1533.17 749.66 1540.5 747.56 1547.84 745.66 C1555.17 743.76 1562.51 742.03 1569.84 740.51 C1577.18 738.99 1584.51 737.65 1591.85 736.51 C1599.18 735.38 1606.52 734.44 1613.85 733.7 C1621.18 732.96 1628.52 732.42 1635.85 732.08 C1643.19 731.74 1650.52 731.6 1657.86 731.65 C1665.19 731.71 1672.53 731.97 1679.86 732.42 C1687.2 732.87 1694.53 733.52 1701.86 734.36 C1709.2 735.2 1716.53 736.23 1723.87 737.44 C1731.2 738.65 1738.54 740.06 1745.87 741.63 C1753.21 743.2 1760.54 744.95 1767.88 746.86 C1775.21 748.77 1782.54 750.86 1789.88 753.08 C1797.21 755.31 1804.55 757.7 1811.88 760.22 C1819.22 762.74 1826.55 765.41 1833.89 768.18 C1841.22 770.96 1848.55 773.88 1855.89 776.88 C1863.22 779.89 1870.56 783.01 1877.89 786.21 C1885.23 789.4 1892.56 792.7 1899.9 796.04 C1907.23 799.38 1918.23 804.55 1921.9 806.25L1917.5 771.3L1979.9 869.9L1865.2 851.1L1899.2 836.85C1895.59 835.27 1884.78 830.39 1877.56 827.35 C1870.35 824.31 1863.14 821.39 1855.93 818.61 C1848.72 815.83 1841.5 813.18 1834.29 810.68 C1827.08 808.19 1819.87 805.83 1812.66 803.62 C1805.44 801.41 1798.23 799.35 1791.02 797.45 C1783.81 795.55 1776.6 793.8 1769.38 792.21 C1762.17 790.62 1754.96 789.19 1747.75 787.92 C1740.54 786.65 1733.32 785.54 1726.11 784.59 C1718.9 783.64 1711.69 782.85 1704.48 782.22 C1697.26 781.6 1690.05 781.13 1682.84 780.83 C1675.63 780.52 1668.42 780.38 1661.2 780.38 C1653.99 780.39 1646.78 780.56 1639.57 780.88 C1632.36 781.2 1625.14 781.67 1617.93 782.29 C1610.72 782.9 1603.51 783.67 1596.3 784.58 C1589.08 785.48 1581.87 786.53 1574.66 787.7 C1567.45 788.88 1560.24 790.19 1553.02 791.62 C1545.81 793.04 1538.6 794.6 1531.39 796.26 C1524.18 797.92 1516.96 799.71 1509.75 801.58 C1502.54 803.45 1495.33 805.43 1488.12 807.49 C1480.9 809.54 1473.69 811.7 1466.48 813.91 C1459.27 816.12 1452.06 818.42 1444.84 820.76 C1437.63 823.1 1430.42 825.51 1423.21 827.94 C1416 830.37 1408.78 832.86 1401.57 835.35 C1394.36 837.83 1387.15 840.36 1379.94 842.87 C1372.72 845.37 1365.82 847.81 1358.3 850.38 C1350.78 852.95 1341.32 856.48 1334.8 858.3 C1328.28 860.12 1323.25 860.77 1319.2 861.3 C1315.15 861.83 1312.73 861.77 1310.5 861.5 C1308.27 861.23 1306.58 860 1305.8 859.7Z" fill="#fdb199" stroke="#f5a38b" stroke-width="0.8" stroke-linejoin="round"/>
</svg>
</body></html>
